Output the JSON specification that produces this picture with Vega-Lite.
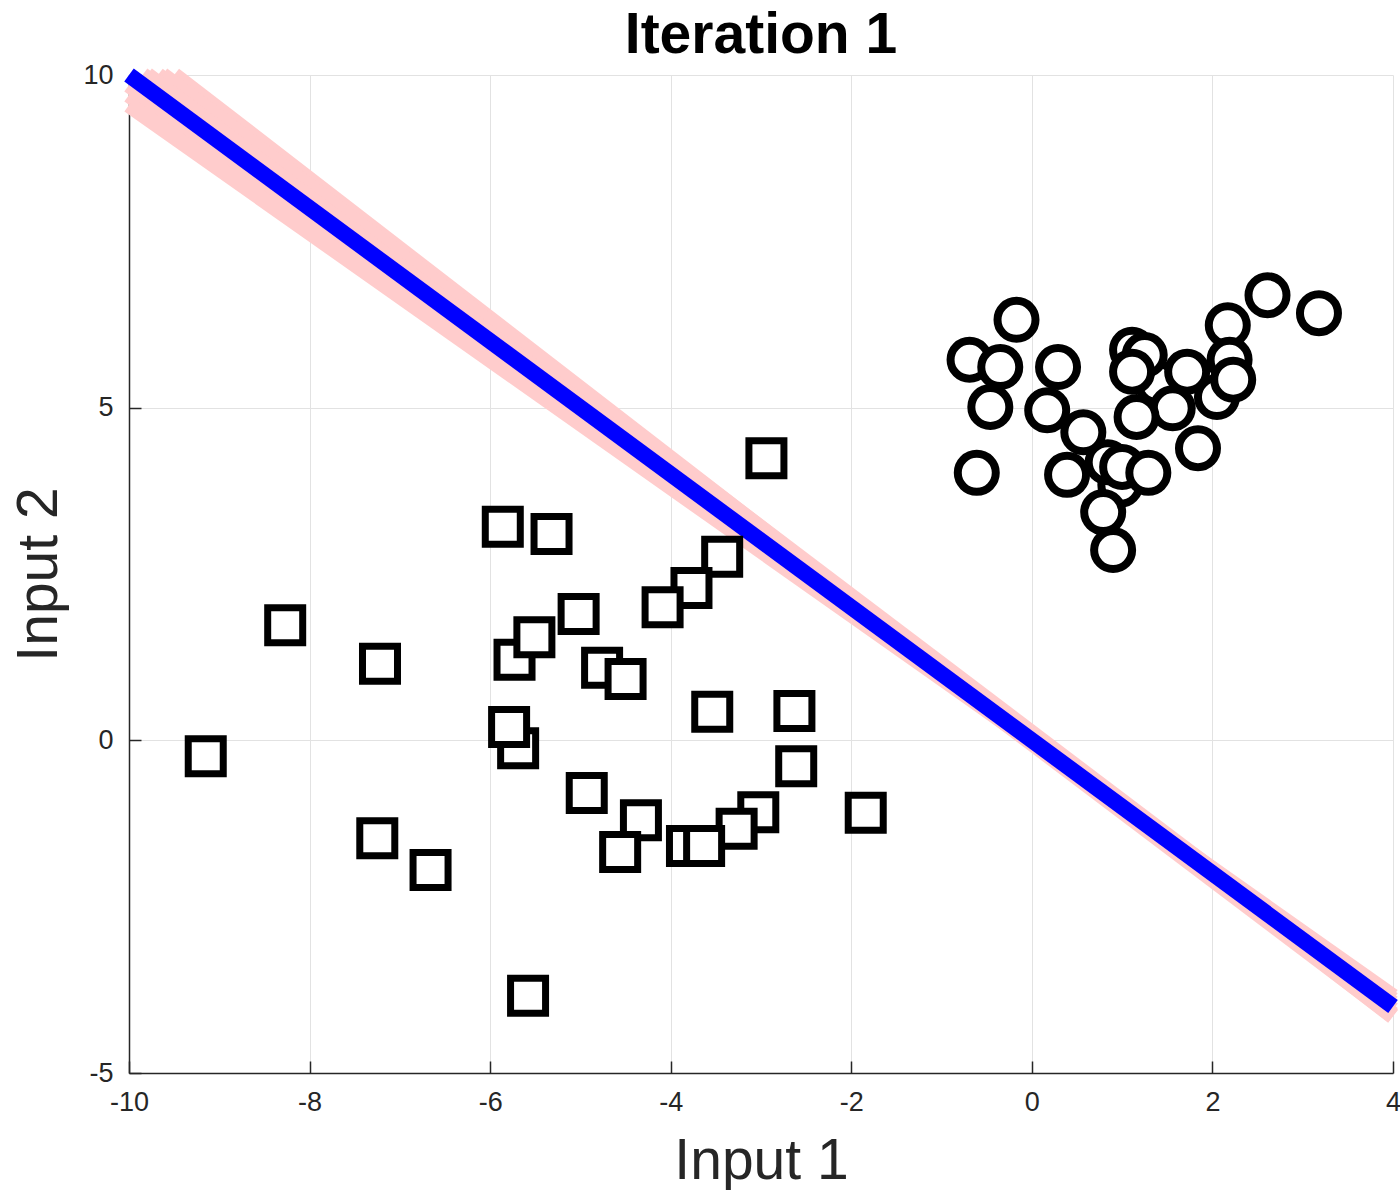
{
  "$schema": "https://vega.github.io/schema/vega-lite/v6.json",
  "width": 1264,
  "height": 998,
  "autosize": {"type": "none"},
  "padding": {"left": 129, "top": 75, "right": 7, "bottom": 117},
  "background": "white",
  "title": {"text": "Iteration 1", "font": "Liberation Sans", "fontSize": 57, "fontWeight": "bold", "color": "black", "anchor": "middle", "offset": -22},
  "config": {
    "view": {"stroke": null},
    "axis": {
      "grid": true, "gridColor": "#e2e2e2", "gridWidth": 1,
      "domainColor": "#262626", "domainWidth": 1.5,
      "tickColor": "#262626", "tickWidth": 1.5, "tickSize": -12,
      "labelFont": "Liberation Sans", "labelFontSize": 27, "labelColor": "#262626", "labelPadding": 28, "labelFlush": false, "labelOverlap": false,
      "labelExpr": "'' + datum.value",
      "titleFont": "Liberation Sans", "titleFontSize": 57, "titleFontWeight": "normal", "titleColor": "#262626"
    }
  },
  "datasets": {
    "pink": [
      {"line": 1, "x": -9.5, "y": 10}, {"line": 1, "x": 4, "y": -4.15},
      {"line": 2, "x": -9.68, "y": 10}, {"line": 2, "x": 4, "y": -4.12},
      {"line": 3, "x": -9.85, "y": 10}, {"line": 3, "x": 4, "y": -4.05},
      {"line": 4, "x": -9.63, "y": 10}, {"line": 4, "x": 4, "y": -4.0},
      {"line": 5, "x": -9.8, "y": 10}, {"line": 5, "x": 4, "y": -4.14},
      {"line": 6, "x": -10, "y": 9.85}, {"line": 6, "x": 4, "y": -3.95},
      {"line": 7, "x": -10, "y": 9.7}, {"line": 7, "x": 4, "y": -3.9},
      {"line": 8, "x": -10, "y": 9.55}, {"line": 8, "x": 4, "y": -3.85}
    ],
    "blue": [{"x": -10, "y": 10}, {"x": 4, "y": -4}],
    "squares": [
      {"x": -2.94, "y": 4.24}, {"x": -5.86, "y": 3.21}, {"x": -5.32, "y": 3.1}, {"x": -3.43, "y": 2.76},
      {"x": -3.77, "y": 2.29}, {"x": -4.09, "y": 2.0}, {"x": -5.02, "y": 1.9}, {"x": -8.27, "y": 1.73},
      {"x": -5.73, "y": 1.21}, {"x": -5.51, "y": 1.55}, {"x": -7.22, "y": 1.15}, {"x": -4.76, "y": 1.09},
      {"x": -4.5, "y": 0.92}, {"x": -3.54, "y": 0.43}, {"x": -2.63, "y": 0.44}, {"x": -5.69, "y": -0.12},
      {"x": -5.79, "y": 0.2}, {"x": -9.15, "y": -0.24}, {"x": -2.61, "y": -0.39}, {"x": -4.93, "y": -0.79},
      {"x": -3.03, "y": -1.08}, {"x": -1.84, "y": -1.09}, {"x": -4.33, "y": -1.2}, {"x": -3.27, "y": -1.33},
      {"x": -7.25, "y": -1.47}, {"x": -3.82, "y": -1.59}, {"x": -3.63, "y": -1.59}, {"x": -4.56, "y": -1.68},
      {"x": -6.66, "y": -1.95}, {"x": -5.58, "y": -3.84}
    ],
    "circles": [
      {"x": 1.39, "y": 5.37}, {"x": 2.05, "y": 5.16},
      {"x": 2.61, "y": 6.69}, {"x": 3.18, "y": 6.42}, {"x": -0.17, "y": 6.32}, {"x": 2.17, "y": 6.24},
      {"x": -0.69, "y": 5.72}, {"x": -0.35, "y": 5.61}, {"x": 0.29, "y": 5.61}, {"x": 1.11, "y": 5.87},
      {"x": 1.25, "y": 5.79}, {"x": 1.11, "y": 5.54}, {"x": 1.72, "y": 5.54}, {"x": 2.19, "y": 5.72},
      {"x": 2.23, "y": 5.42}, {"x": -0.46, "y": 5.01}, {"x": 0.17, "y": 4.96}, {"x": 1.56, "y": 4.99},
      {"x": 1.16, "y": 4.86}, {"x": 0.57, "y": 4.63}, {"x": 1.84, "y": 4.39}, {"x": 0.98, "y": 3.84},
      {"x": 0.84, "y": 4.18}, {"x": 1.0, "y": 4.11}, {"x": 1.29, "y": 4.02}, {"x": -0.61, "y": 4.02},
      {"x": 0.39, "y": 3.99}, {"x": 0.79, "y": 3.43}, {"x": 0.9, "y": 2.86}
    ]
  },
  "encoding": {
    "x": {"field": "x", "type": "quantitative", "scale": {"domain": [-10, 4], "nice": false, "zero": false}, "axis": {"values": [-10, -8, -6, -4, -2, 0, 2, 4], "title": "Input 1", "titlePadding": 18}},
    "y": {"field": "y", "type": "quantitative", "scale": {"domain": [-5, 10], "nice": false, "zero": false}, "axis": {"values": [-5, 0, 5, 10], "title": "Input 2", "titlePadding": 14}}
  },
  "layer": [
    {"data": {"name": "pink"}, "mark": {"type": "line", "color": "#ffcccc", "strokeWidth": 16, "strokeCap": "butt"}, "encoding": {"detail": {"field": "line", "type": "nominal"}}},
    {"data": {"name": "blue"}, "mark": {"type": "line", "color": "#0000ff", "strokeWidth": 16, "strokeCap": "butt"}, "encoding": {}},
    {"data": {"name": "squares"}, "mark": {"type": "point", "shape": "square", "filled": true, "fill": "white", "stroke": "black", "strokeWidth": 7, "size": 1225, "opacity": 1}, "encoding": {}},
    {"data": {"name": "circles"}, "mark": {"type": "point", "shape": "circle", "filled": true, "fill": "white", "stroke": "black", "strokeWidth": 8, "size": 1444, "opacity": 1}, "encoding": {}}
  ]
}
